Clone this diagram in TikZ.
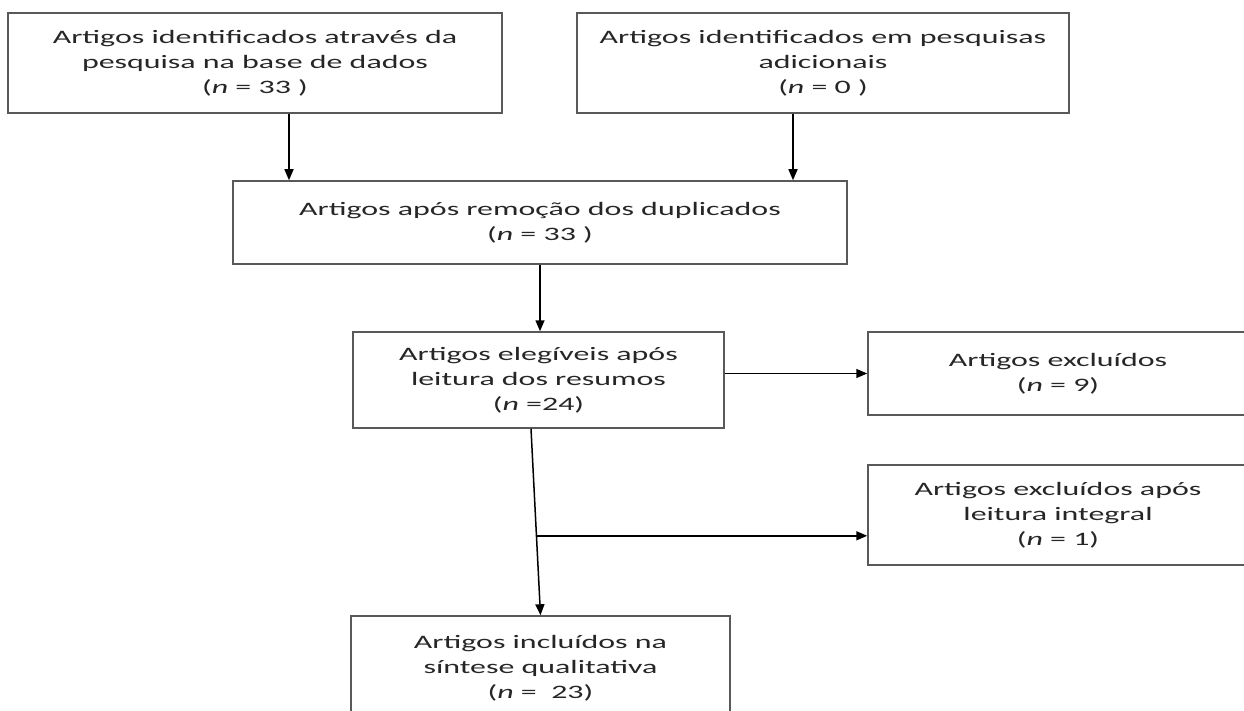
\documentclass[tikz,border=0pt]{standalone}
\usepackage{fontspec}
\setmainfont[FakeStretch=1.68]{Carlito}
\usetikzlibrary{arrows.meta}
\tikzset{
  box/.style={draw=black!65, line width=1.5pt, fill=white, rectangle, inner sep=0pt,
    align=center, text=black!85, font=\fontsize{19}{25}\selectfont},
  arr/.style={draw=black, line width=1.5pt, -{Triangle[length=11pt,width=9pt]}},
}
\begin{document}
\begin{tikzpicture}[x=1pt,y=-1pt]
\useasboundingbox (0,0) rectangle (1244,711);
\node[box, minimum width=494pt, minimum height=100pt] (b1) at (255,63)
  {Artigos identificados através da\\pesquisa na base de dados\\(\textit{n} = 33 )};
\node[box, minimum width=492pt, minimum height=100pt] (b2) at (823,63)
  {Artigos identificados em pesquisas\\adicionais\\(\textit{n} = 0 )};
\node[box, minimum width=614pt, minimum height=83pt] (b3) at (540,222.5)
  {Artigos após remoção dos duplicados\\(\textit{n} = 33 )};
\node[box, minimum width=371pt, minimum height=96pt] (b4) at (538.5,380)
  {Artigos elegíveis após\\leitura dos resumos\\(\textit{n} =24)};
\node[box, minimum width=380pt, minimum height=83pt] (b5) at (1058,373.5)
  {Artigos excluídos\\(\textit{n} = 9)};
\node[box, minimum width=380pt, minimum height=100pt] (b6) at (1058,515)
  {Artigos excluídos após\\leitura integral\\(\textit{n} = 1)};
\node[box, minimum width=379pt, minimum height=104pt] (b7) at (540.5,668)
  {Artigos incluídos na\\síntese qualitativa\\(\textit{n} =\ \ 23)};

\draw[arr] ([xshift=34pt]b1.south) -- ([xshift=34pt]b1.south |- b3.north);
\draw[arr] ([xshift=-30pt]b2.south) -- ([xshift=-30pt]b2.south |- b3.north);
\draw[arr] (b3.south) -- (b3.south |- b4.north);
\draw[arr] (b4.east |- b5.west) -- (b5.west);
\draw[arr] ([xshift=-7.5pt]b4.south) -- coordinate[pos=0.574] (br) (b7.north);
\draw[arr] (br) -- (br -| b6.west);
\end{tikzpicture}
\end{document}
